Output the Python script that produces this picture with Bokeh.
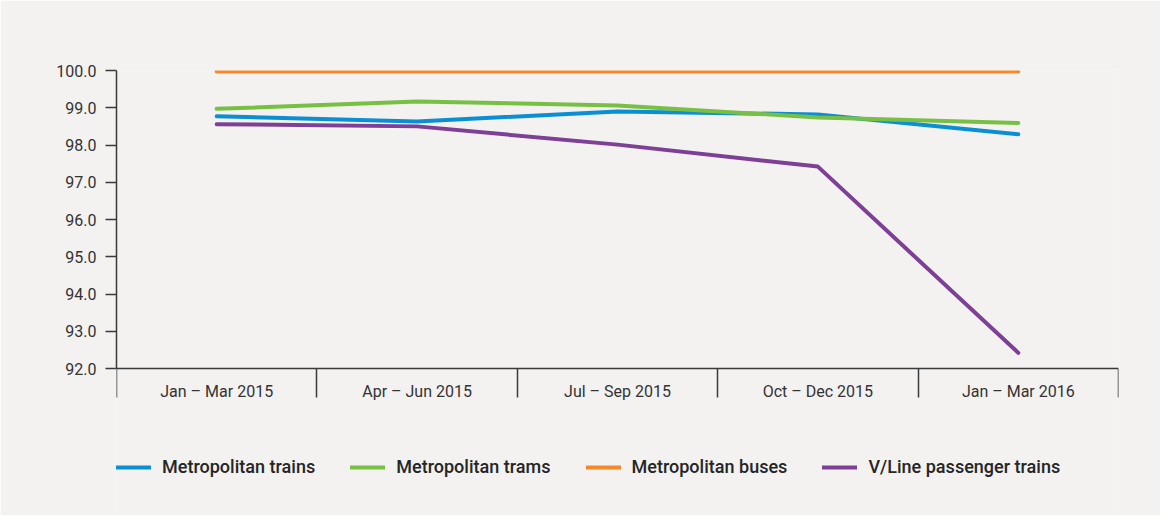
from bokeh.plotting import figure
from bokeh.models import (Range1d, FixedTicker, LinearAxis, Legend, LegendItem,
                          PrintfTickFormatter)
from bokeh.embed import file_html
from bokeh.resources import INLINE

# ---- data ----
categories = ["Jan – Mar 2015", "Apr – Jun 2015", "Jul – Sep 2015",
              "Oct – Dec 2015", "Jan – Mar 2016"]
metro_trains = [98.77, 98.63, 98.90, 98.82, 98.29]
metro_trams = [98.97, 99.17, 99.06, 98.74, 98.59]
metro_buses = [99.97, 99.97, 99.97, 99.97, 99.97]
vline_trains = [98.56, 98.50, 98.01, 97.42, 92.42]
y_ticks = [92, 93, 94, 95, 96, 97, 98, 99, 100]

series_names = ["Metropolitan trains", "Metropolitan trams",
                "Metropolitan buses", "V/Line passenger trains"]
series_values = [metro_trains, metro_trams, metro_buses, vline_trains]
series_colors = ["#0a8fd4", "#78c043", "#f5892a", "#7e3f97"]

BG = "#f3f2f0"
FONT = "Roboto"

n = len(categories)
xs = [i + 0.5 for i in range(n)]

AXIS_H = 298     # pixel height of the value axis (92..100)
FRAME_H = 445    # frame extends below the axis to hold the legend
LEGEND_BOTTOM = 38
y_lo, y_hi = y_ticks[0], y_ticks[-1]
y_start = y_lo - (FRAME_H - AXIS_H) * (y_hi - y_lo) / AXIS_H

p = figure(frame_width=1002, frame_height=FRAME_H,
           min_border_left=116, min_border_right=42,
           min_border_top=70, min_border_bottom=0,
           x_range=Range1d(0, n), y_range=Range1d(y_start, y_hi),
           output_backend="svg", toolbar_location=None,
           background_fill_color=BG, border_fill_color=BG,
           x_axis_type=None, y_axis_type=None)
p.outline_line_color = None

# y axis
yax = LinearAxis(ticker=FixedTicker(ticks=y_ticks),
                 formatter=PrintfTickFormatter(format="%.1f"),
                 bounds=(y_lo, y_hi))
yax.axis_line_color = "#3a3a3a"
yax.axis_line_width = 1.5
yax.major_tick_line_color = "#3a3a3a"
yax.major_tick_line_width = 1.5
yax.major_tick_out = 11
yax.major_tick_in = 0
yax.minor_tick_line_color = None
yax.major_label_text_font = FONT
yax.major_label_text_font_size = "16px"
yax.major_label_text_color = "#333333"
yax.major_label_standoff = 9
p.add_layout(yax, "left")

# x axis at value 92: labels at centres, separators as minor ticks
xax = LinearAxis(ticker=FixedTicker(ticks=xs, minor_ticks=list(range(n + 1))),
                 major_label_overrides={x: c for x, c in zip(xs, categories)},
                 fixed_location=y_lo)
xax.axis_line_color = "#3a3a3a"
xax.axis_line_width = 1.5
xax.major_tick_line_color = None
xax.major_tick_out = 0
xax.major_tick_in = 0
xax.minor_tick_line_color = "#3a3a3a"
xax.minor_tick_line_width = 1.5
xax.minor_tick_out = 29
xax.minor_tick_in = 0
xax.major_label_text_font = FONT
xax.major_label_text_font_size = "16px"
xax.major_label_text_color = "#333333"
xax.major_label_standoff = -16
p.add_layout(xax, "below")

p.ygrid.ticker = FixedTicker(ticks=y_ticks)
p.ygrid.grid_line_color = "#ababab"
p.ygrid.grid_line_width = 1.5
p.xgrid.grid_line_color = None

items = []
for name, vals, col in zip(series_names, series_values, series_colors):
    r = p.line(xs, vals, line_color=col, line_width=4, line_cap="round")
    items.append(LegendItem(label=name, renderers=[r]))

legend = Legend(items=items, orientation="horizontal",
                location=(0, LEGEND_BOTTOM))
legend.background_fill_alpha = 0
legend.border_line_color = None
legend.label_text_font = "Roboto Medium"
legend.label_text_font_size = "18px"
legend.label_text_font_style = "normal"
legend.label_text_color = "#262626"
legend.glyph_width = 35
legend.glyph_height = 16
legend.label_standoff = 11
legend.spacing = 35
legend.padding = 0
legend.margin = 0
legend.label_height = 16
p.add_layout(legend, "center")

open("out.html", "w").write(file_html(p, INLINE))
